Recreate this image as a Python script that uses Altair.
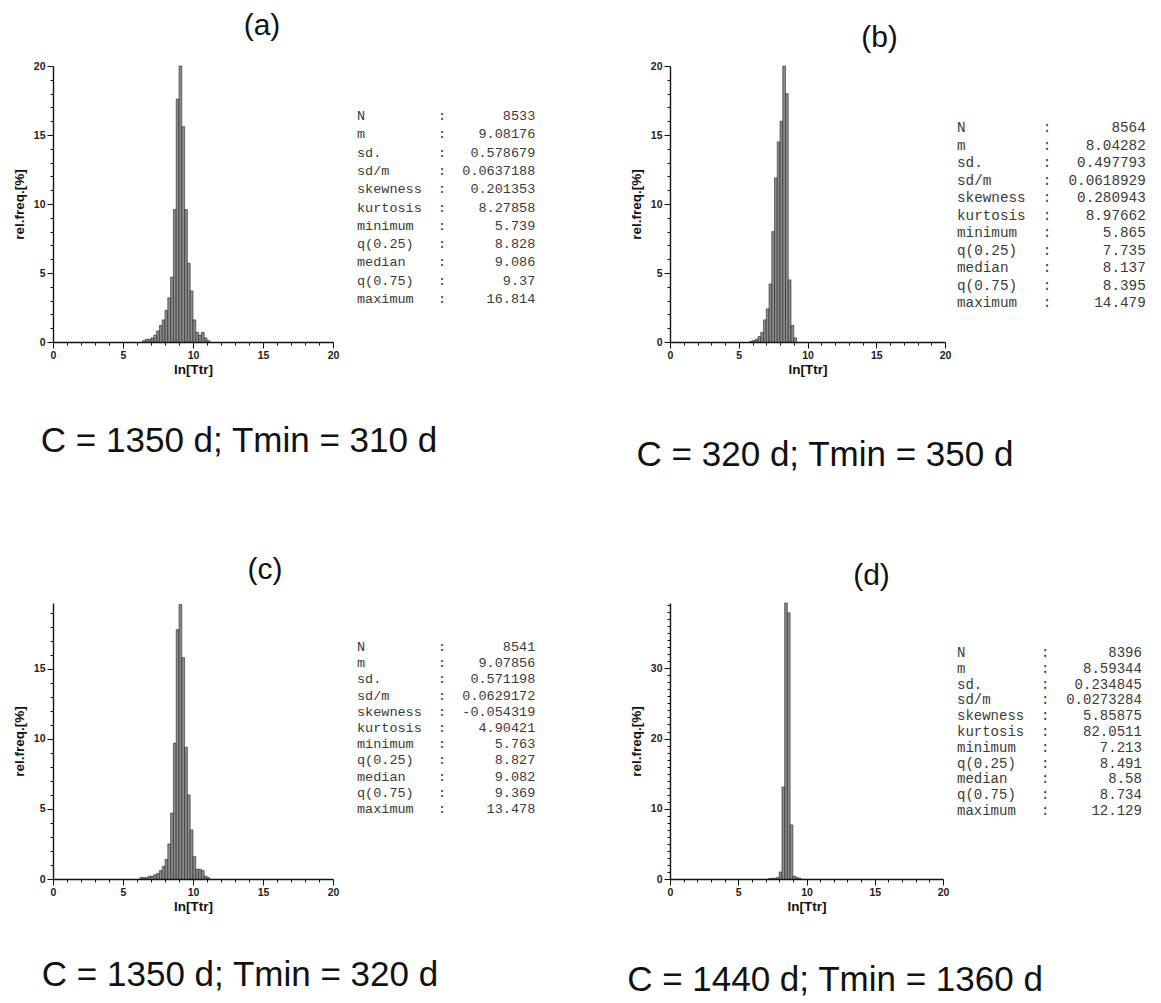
import altair as alt
import pandas as pd

BIN_WIDTH = 0.2

# histogram bins (left edge of each 0.2-wide class) and relative frequencies [%]
a_bins = [6.4, 6.6, 6.8, 7.0, 7.2, 7.4, 7.6, 7.8, 8.0, 8.2, 8.4, 8.6, 8.8, 9.0, 9.2, 9.4, 9.6, 9.8, 10.0, 10.2, 10.4, 10.6, 10.8, 11.0]
a_pct = [0.1, 0.2, 0.2, 0.3, 0.5, 0.8, 1.2, 1.6, 2.3, 3.2, 4.7, 9.6, 17.6, 20.0, 15.6, 9.6, 5.7, 3.7, 1.6, 0.7, 0.5, 0.7, 0.3, 0.1]

b_bins = [5.8, 6.0, 6.2, 6.4, 6.6, 6.8, 7.0, 7.2, 7.4, 7.6, 7.8, 8.0, 8.2, 8.4, 8.6, 8.8, 9.0]
b_pct = [0.05, 0.1, 0.2, 0.4, 0.7, 1.6, 2.4, 4.2, 8.0, 11.9, 14.5, 16.0, 20.0, 18.0, 4.5, 1.2, 0.3]

c_bins = [6.2, 6.4, 6.6, 6.8, 7.0, 7.2, 7.4, 7.6, 7.8, 8.0, 8.2, 8.4, 8.6, 8.8, 9.0, 9.2, 9.4, 9.6, 9.8, 10.0, 10.2, 10.4, 10.6, 10.8, 11.0]
c_pct = [0.1, 0.1, 0.1, 0.2, 0.2, 0.3, 0.4, 0.6, 0.9, 1.4, 2.5, 4.7, 9.7, 17.8, 19.6, 15.8, 9.4, 6.0, 3.5, 1.6, 0.7, 0.7, 0.6, 0.2, 0.1]

d_bins = [7.2, 7.4, 7.6, 7.8, 8.0, 8.2, 8.4, 8.6, 8.8, 9.0, 9.2, 9.4]
d_pct = [0.05, 0.1, 0.1, 0.2, 1.0, 13.1, 39.3, 37.9, 7.7, 0.4, 0.2, 0.1]

# summary statistics printed beside each histogram
stat_labels = ["N", "m", "sd.", "sd/m", "skewness", "kurtosis", "minimum",
               "q(0.25)", "median", "q(0.75)", "maximum"]
a_stats = ["8533", "9.08176", "0.578679", "0.0637188", "0.201353", "8.27858",
           "5.739", "8.828", "9.086", "9.37", "16.814"]
b_stats = ["8564", "8.04282", "0.497793", "0.0618929", "0.280943", "8.97662",
           "5.865", "7.735", "8.137", "8.395", "14.479"]
c_stats = ["8541", "9.07856", "0.571198", "0.0629172", "-0.054319", "4.90421",
           "5.763", "8.827", "9.082", "9.369", "13.478"]
d_stats = ["8396", "8.59344", "0.234845", "0.0273284", "5.85875", "82.0511",
           "7.213", "8.491", "8.58", "8.734", "12.129"]

panel_titles = ["(a)", "(b)", "(c)", "(d)"]
captions = ["C = 1350 d; Tmin = 310 d", "C = 320 d; Tmin = 350 d",
            "C = 1350 d; Tmin = 320 d", "C = 1440 d; Tmin = 1360 d"]
y_max = [20, 20, 19.7, 39.3]
y_major = [5, 5, 5, 10]
x_ticks = list(range(0, 21))

SANS = "Liberation Sans"
MONO = "Liberation Mono"
H = 276
NBSP = "\u00a0"


def panel(bins, pct, ymax, ymaj, stats, title, caption, width,
          t_dx, t_off, cap_x, cap_y, st_x, st_y, st_lh, st_fs):
    df = pd.DataFrame({"lo": bins, "pct": pct})
    df["hi"] = df["lo"] + BIN_WIDTH
    y_ticks = list(range(0, int(ymax) + 1))

    x_axis = alt.Axis(
        values=x_ticks,
        labelExpr="datum.value % 5 === 0 ? datum.label : ''",
        tickSize={"condition": {"test": "datum.value % 5 === 0", "value": 6}, "value": 3},
        title="ln[Ttr]", titleFont=SANS, titleFontWeight="bold", titleFontSize=13.5,
        titleColor="#111", titlePadding=2,
        labelFont=SANS, labelFontWeight="bold", labelFontSize=10.5, labelColor="#222",
        labelFlush=False, labelOverlap=False, labelPadding=2,
        domainColor="#111", domainWidth=1.4, tickColor="#111", tickWidth=1, grid=False,
    )
    y_axis = alt.Axis(
        values=y_ticks,
        labelExpr=f"datum.value % {ymaj} === 0 ? datum.label : ''",
        tickSize={"condition": {"test": f"datum.value % {ymaj} === 0", "value": 6}, "value": 3},
        title="rel.freq.[%]", titleFont=SANS, titleFontWeight="bold", titleFontSize=13.5,
        titleColor="#111", titlePadding=7,
        labelFont=SANS, labelFontWeight="bold", labelFontSize=10.5, labelColor="#222",
        labelOverlap=False, labelPadding=2,
        domainColor="#111", domainWidth=1.4, tickColor="#111", tickWidth=1, grid=False,
    )

    bars = alt.Chart(df).mark_bar(fill="#8c8c8c", stroke="#1a1a1a", strokeWidth=0.55).encode(
        x=alt.X("lo:Q", scale=alt.Scale(domain=[0, 20], nice=False, zero=False), axis=x_axis),
        x2="hi:Q",
        y=alt.Y("pct:Q", scale=alt.Scale(domain=[0, ymax], nice=False), axis=y_axis),
        y2=alt.datum(0),
    )

    lines = [f"{lab:<10}:{val:>11}".replace(" ", NBSP) for lab, val in zip(stat_labels, stats)]
    st_df = pd.DataFrame({"t": ["\n".join(lines)]})
    stats_txt = alt.Chart(st_df).mark_text(
        lineBreak="\n", align="left", baseline="top", font=MONO, fontSize=st_fs,
        lineHeight=st_lh, color="#3a3a3a",
    ).encode(x=alt.value(st_x), y=alt.value(st_y), text="t:N")

    cap_df = pd.DataFrame({"t": [caption]})
    cap_txt = alt.Chart(cap_df).mark_text(
        align="center", baseline="middle", font=SANS, fontSize=35, color="#111",
    ).encode(x=alt.value(cap_x), y=alt.value(cap_y), text="t:N")

    return alt.layer(bars, stats_txt, cap_txt).properties(
        width=width, height=H,
        title=alt.TitleParams(title, font=SANS, fontSize=30, fontWeight="normal",
                              color="#111", anchor="middle", frame="group",
                              baseline="bottom", dx=t_dx, offset=t_off),
    )


pa = panel(a_bins, a_pct, y_max[0], y_major[0], a_stats, panel_titles[0], captions[0], 280,
           69, -10, 186, 375, 304, 43, 18.3, 13.5)
pb = panel(b_bins, b_pct, y_max[1], y_major[1], b_stats, panel_titles[1], captions[1], 275,
           72, -22, 155, 389, 287, 55, 17.5, 14.3)
pc = panel(c_bins, c_pct, y_max[2], y_major[2], c_stats, panel_titles[2], captions[2], 280,
           72, -12, 187, 372, 304, 37, 16.2, 13.5)
pd_ = panel(d_bins, d_pct, y_max[3], y_major[3], d_stats, panel_titles[3], captions[3], 273,
            65, -21, 165, 377, 287, 43, 15.8, 14.0)

chart = alt.concat(
    pa, pb, pc, pd_, columns=2, bounds="flush",
    spacing={"row": 261, "column": 337},
).properties(
    padding={"left": 4, "top": 3, "right": 0, "bottom": 0},
    background="white",
).configure_view(stroke=None)

chart.save("out.html", embed_options={"renderer": "svg", "actions": False})
